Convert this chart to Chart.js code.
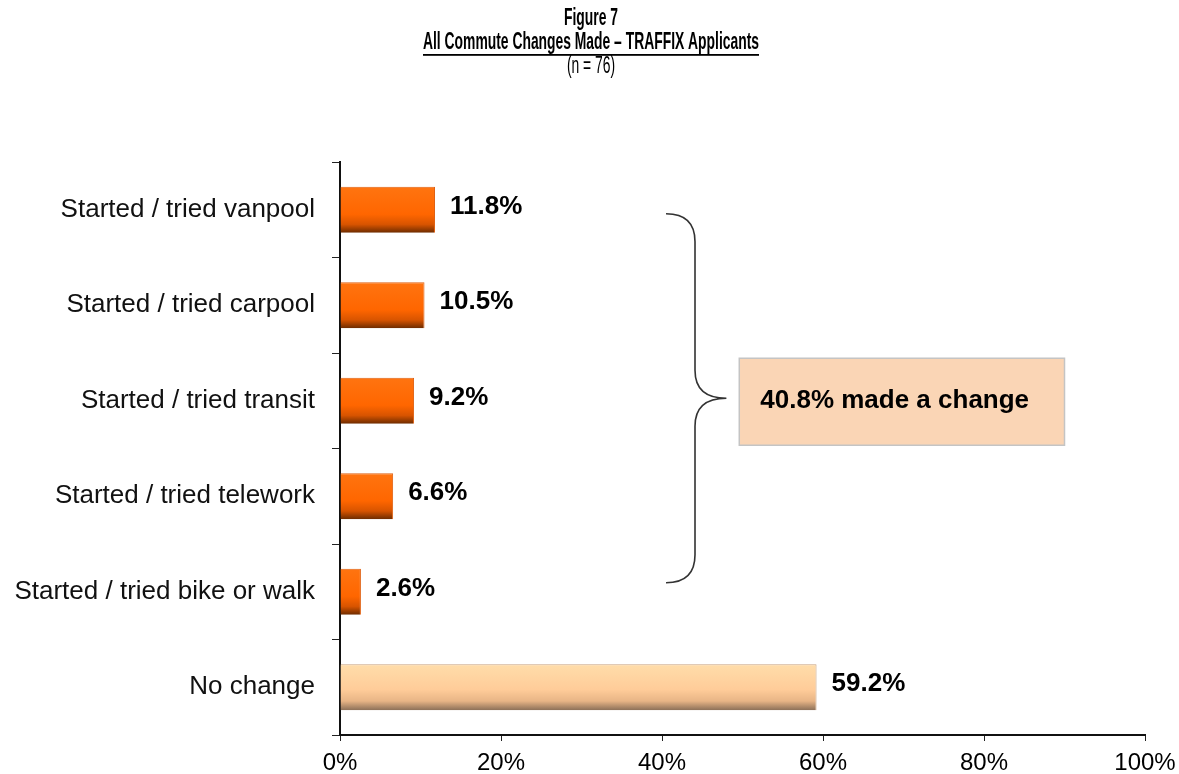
<!DOCTYPE html>
<html lang="en">
<head>
    <meta charset="UTF-8">
    <title>Figure 7 - All Commute Changes Made</title>
    <script src="https://cdn.jsdelivr.net/npm/chart.js"></script>
    <style>
        html, body { margin: 0; padding: 0; background: #fff; }
    </style>
</head>
<body>
    <canvas id="commuteChart" width="1179" height="774"></canvas>

    <script>
        // Data
        const categories = [
            'Started / tried vanpool',
            'Started / tried carpool',
            'Started / tried transit',
            'Started / tried telework',
            'Started / tried bike or walk',
            'No change'
        ];
        const percents = [11.8, 10.5, 9.2, 6.6, 2.6, 59.2];
        const xTicks = [0, 20, 40, 60, 80, 100];
        const titleLines = ['Figure 7', 'All Commute Changes Made \u2013 TRAFFIX Applicants', '(n = 76)'];
        const calloutText = '40.8% made a change';

        // bar fill with a shaded bottom edge
        function barFill(context) {
            const chart = context.chart;
            const yScale = chart.scales.y;
            const noChange = context.dataIndex === categories.length - 1;
            if (!yScale || !chart.chartArea) return noChange ? '#FFCC99' : '#FF6600';
            const yc = yScale.getPixelForValue(context.dataIndex);
            const h = yScale.getPixelForTick(1) - yScale.getPixelForTick(0);
            const half = h * 0.48 / 2;
            const g = chart.ctx.createLinearGradient(0, yc - half, 0, yc + half);
            if (noChange) {
                g.addColorStop(0, '#FFDDAA');
                g.addColorStop(0.55, '#FFCC99');
                g.addColorStop(0.8, '#E8B586');
                g.addColorStop(1, '#8C7058');
            } else {
                g.addColorStop(0, '#FF7410');
                g.addColorStop(0.6, '#FF6600');
                g.addColorStop(0.82, '#D85400');
                g.addColorStop(1, '#6E2C00');
            }
            return g;
        }

        // title lines, squeezed to look like a narrow font
        const titlePlugin = {
            id: 'figTitle',
            afterDraw(chart) {
                const ctx = chart.ctx;
                const cx = 591;
                const fam = '"Liberation Sans", Arial, sans-serif';
                ctx.save();
                ctx.fillStyle = '#000';
                ctx.textAlign = 'center';
                ctx.textBaseline = 'middle';
                ctx.font = 'bold 23px ' + fam;
                const w = ctx.measureText(titleLines[1]).width;
                const sx = 336 / w;
                function narrow(text, y) {
                    ctx.save();
                    ctx.translate(cx, y);
                    ctx.scale(sx, 1);
                    ctx.fillText(text, 0, 0);
                    ctx.restore();
                }
                narrow(titleLines[0], 19);
                narrow(titleLines[1], 43);
                ctx.fillRect(cx - 168, 54, 336, 1.8);
                ctx.font = '23px ' + fam;
                narrow(titleLines[2], 67);
                ctx.restore();
            }
        };

        // value labels at the end of each bar
        const valueLabels = {
            id: 'valueLabels',
            afterDatasetsDraw(chart) {
                const ctx = chart.ctx;
                const meta = chart.getDatasetMeta(0);
                ctx.save();
                ctx.fillStyle = '#000';
                ctx.font = 'bold 26px "Liberation Sans", Arial, sans-serif';
                ctx.textAlign = 'left';
                ctx.textBaseline = 'middle';
                meta.data.forEach((bar, i) => {
                    ctx.fillText(percents[i].toFixed(1) + '%', bar.x + 15, bar.y - 3);
                });
                ctx.restore();
            }
        };

        // brace and callout box for the changers
        const calloutPlugin = {
            id: 'callout',
            afterDraw(chart) {
                const ctx = chart.ctx;
                const x = chart.scales.x, y = chart.scales.y;
                const yTop = y.getPixelForValue(0) + 4;
                const yBot = y.getPixelForValue(4) - 9;
                const yMid = (yTop + yBot) / 2;
                const x0 = x.getPixelForValue(40.5);
                const x1 = x.getPixelForValue(44.1);
                const x2 = x.getPixelForValue(48.0);
                const r = 28;
                ctx.save();
                ctx.strokeStyle = '#333';
                ctx.lineWidth = 1.6;
                ctx.beginPath();
                ctx.moveTo(x0, yTop);
                ctx.quadraticCurveTo(x1, yTop, x1, yTop + r);
                ctx.lineTo(x1, yMid - r);
                ctx.quadraticCurveTo(x1, yMid, x2, yMid);
                ctx.quadraticCurveTo(x1, yMid, x1, yMid + r);
                ctx.lineTo(x1, yBot - r);
                ctx.quadraticCurveTo(x1, yBot, x0, yBot);
                ctx.stroke();

                const bx0 = x.getPixelForValue(49.6), bx1 = x.getPixelForValue(90);
                const by0 = yMid - 40, by1 = yMid + 47;
                ctx.fillStyle = '#FAD5B5';
                ctx.fillRect(bx0, by0, bx1 - bx0, by1 - by0);
                ctx.strokeStyle = '#C4C4C4';
                ctx.lineWidth = 1.5;
                ctx.strokeRect(bx0, by0, bx1 - bx0, by1 - by0);
                ctx.fillStyle = '#000';
                ctx.font = 'bold 26px "Liberation Sans", Arial, sans-serif';
                ctx.textAlign = 'left';
                ctx.textBaseline = 'middle';
                ctx.fillText(calloutText, bx0 + 21, yMid + 3);
                ctx.restore();
            }
        };

        const ctx = document.getElementById('commuteChart').getContext('2d');
        const chart = new Chart(ctx, {
            type: 'bar',
            data: {
                labels: categories,
                datasets: [{
                    data: percents,
                    backgroundColor: barFill,
                    borderColor: ctx2 => ctx2.dataIndex === categories.length - 1 ? '#C9A27E' : '#E06010',
                    borderWidth: { top: 1, right: 1, bottom: 0, left: 0 },
                    borderSkipped: false,
                    barPercentage: 0.48,
                    categoryPercentage: 1
                }]
            },
            options: {
                indexAxis: 'y',
                responsive: false,
                animation: false,
                layout: { padding: { top: 162, right: 34, left: 0, bottom: 0 } },
                plugins: {
                    legend: { display: false },
                    tooltip: { enabled: false },
                    title: { display: false }
                },
                scales: {
                    x: {
                        min: 0,
                        max: 100,
                        afterBuildTicks: scale => { scale.ticks = xTicks.map(v => ({ value: v })); },
                        afterFit: scale => {
                            scale.height = 39;
                            scale.paddingLeft = 0;
                            scale.paddingRight = 0;
                        },
                        border: { color: '#111', width: 2 },
                        grid: { drawOnChartArea: false, tickLength: 6, color: '#222', tickWidth: 1 },
                        ticks: {
                            color: '#000',
                            padding: 8,
                            font: { family: '"Liberation Sans", Arial, sans-serif', size: 24 },
                            callback: v => v + '%'
                        }
                    },
                    y: {
                        afterFit: scale => { scale.width = 340; },
                        border: { color: '#111', width: 2 },
                        grid: { drawOnChartArea: false, tickLength: 8, color: '#222', tickWidth: 1, offset: true },
                        ticks: {
                            color: '#111',
                            padding: 17,
                            font: { family: '"Liberation Sans", Arial, sans-serif', size: 26 }
                        }
                    }
                }
            },
            plugins: [titlePlugin, valueLabels, calloutPlugin]
        });
    </script>
</body>
</html>
